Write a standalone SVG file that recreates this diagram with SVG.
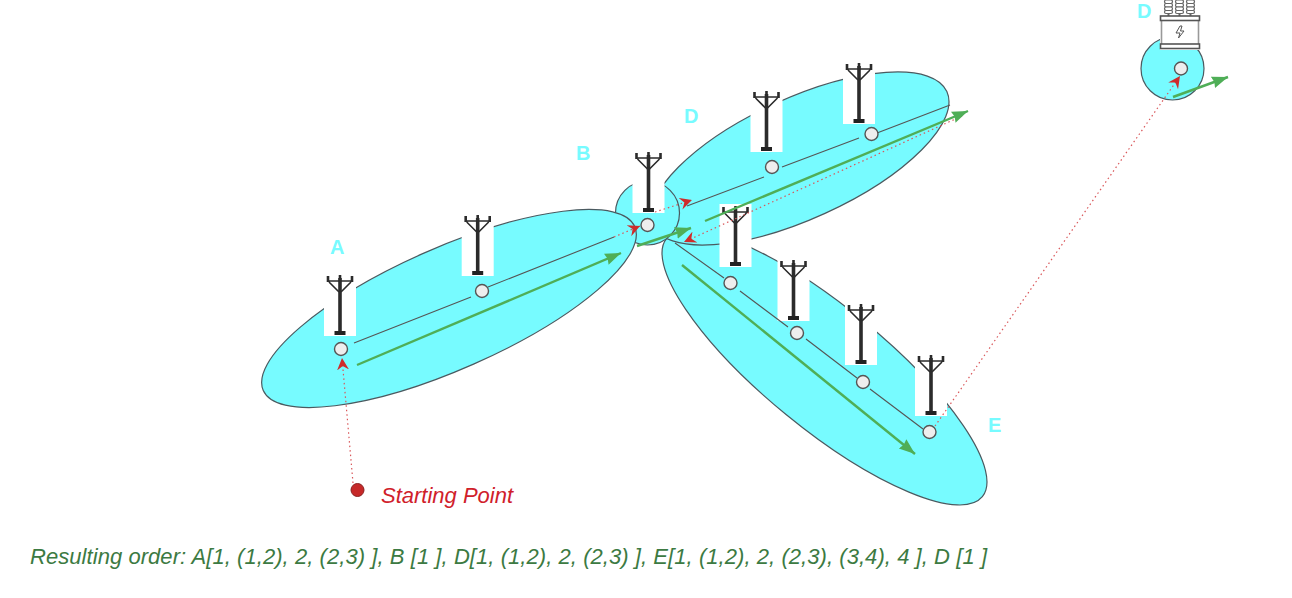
<svg xmlns="http://www.w3.org/2000/svg" width="1292" height="598" viewBox="0 0 1292 598">
<style>
.area{fill:#77fbff;stroke:#4a5a60;stroke-width:1.2}
.wire{stroke:#555;stroke-width:1.1;fill:none}
.pt{fill:#eeeeee;stroke:#555;stroke-width:1.4}
.green{stroke:#4fae57;stroke-width:2.4;fill:none;marker-end:url(#ga)}
.red{stroke:#d9575a;stroke-width:1.2;stroke-dasharray:1.5 3;fill:none;marker-end:url(#ra)}
.lab{font:bold 20px "Liberation Sans",Arial,sans-serif;fill:#77fbff}
.note{font:italic 22px "Liberation Sans",Arial,sans-serif}
</style>
<defs>
<marker id="ga" markerUnits="userSpaceOnUse" markerWidth="18" markerHeight="14" refX="16" refY="7" orient="auto"><path d="M0,1 L16,7 L0,13 L1.500,7z" fill="#4fae57"/></marker>
<marker id="ra" markerUnits="userSpaceOnUse" markerWidth="14" markerHeight="14" refX="12" refY="7" orient="auto"><path d="M0,1 L12,7 L0,13 L4,7z" fill="#cf2b2b"/></marker>
<g id="pole">
<rect x="-16" y="-62" width="32" height="63" fill="#fff"/>
<g fill="none" stroke="#2b2b2b">
<path d="M0,-57V-3" stroke-width="3.6"/>
<path d="M-12,-54H12M-11,-53L-1,-43M11,-53L1,-43" stroke-width="1.6"/>
<path d="M-12,-59V-53M0,-60V-53M12,-59V-53" stroke-width="2.6"/>
</g>
<rect x="-5.500" y="-4" width="11" height="4" fill="#222"/>
</g>
<g id="bushing" fill="#fff" stroke="#666" stroke-width="1.2">
<path d="M0,12V16" stroke-width="2"/>
<rect x="-4" y="0" width="8" height="3.500" rx="1.700"/>
<rect x="-4" y="3.500" width="8" height="3.500" rx="1.700"/>
<rect x="-4" y="7" width="8" height="3.500" rx="1.700"/>
<rect x="-4" y="10.500" width="8" height="3" rx="1.500"/>
</g>
</defs>
<g id="area-E"><ellipse class="area" cx="824.500" cy="367.500" rx="204" ry="60.700" transform="rotate(39.300 824.500 367.500)"/></g>
<g id="area-D"><ellipse class="area" cx="800" cy="158.500" rx="161.400" ry="60.300" transform="rotate(-24.500 800 158.500)"/></g>
<g id="area-B"><circle class="area" cx="647.500" cy="213" r="32"/></g>
<g id="area-A"><ellipse class="area" cx="449" cy="308.500" rx="203" ry="60.800" transform="rotate(-23.800 449 308.500)"/></g>
<g id="area-D2"><circle class="area" cx="1172.500" cy="68.500" r="31.500"/></g>
<g id="towers">
<use href="#pole" x="340" y="335"/>
<use href="#pole" x="477.700" y="275"/>
<use href="#pole" x="648.500" y="212"/>
<use href="#pole" x="766.500" y="151"/>
<use href="#pole" x="859" y="123"/>
<use href="#pole" x="735.500" y="266"/>
<use href="#pole" x="793.500" y="320"/>
<use href="#pole" x="861" y="364"/>
<use href="#pole" x="931" y="415"/>
</g>
<g id="transformer">
<rect x="1160" y="0" width="40" height="50" fill="#fff"/>
<use href="#bushing" x="1168.500" y="0"/>
<use href="#bushing" x="1179.500" y="0"/>
<use href="#bushing" x="1190.500" y="0"/>
<g fill="#fff" stroke="#555" stroke-width="1.6">
<rect x="1161.500" y="20" width="37" height="25" stroke="#999"/>
<rect x="1160.500" y="16" width="39" height="4.500"/>
<rect x="1160.500" y="44" width="39" height="4.500"/>
<path d="M1180,26L1176,33H1180L1178.500,38L1184,31H1180.500L1182,26Z" stroke-width="1"/>
</g>
</g>
<g id="connectors">
<path class="wire" d="M354,343L471,297M488,287L614,237M687,206L764,177M782,167L859,138M877,133L950,105M675,243L724,278M740,291L788,327M806,339L857,378M870,389L923,429"/>
<path class="red" d="M353,483L342,358"/>
<path class="red" d="M614,237L640,226"/>
<path class="red" d="M655,212L692,200"/>
<path class="red" d="M962,116L684,242"/>
<path class="red" d="M935,426L1180,76"/>
<path class="green" d="M357,365L621,253"/>
<path class="green" d="M637,246L691,228"/>
<path class="green" d="M705,221L968,111"/>
<path class="green" d="M682,265L915,454"/>
<path class="green" d="M1173,97L1228,77"/>
</g>
<g id="nodes">
<circle id="n1" class="pt" cx="341" cy="349" r="6.500"/>
<circle id="n2" class="pt" cx="482" cy="291" r="6.500"/>
<circle id="n3" class="pt" cx="647.500" cy="225" r="6.500"/>
<circle id="n4" class="pt" cx="772" cy="167" r="6.500"/>
<circle id="n5" class="pt" cx="871.500" cy="134" r="6.500"/>
<circle id="n6" class="pt" cx="730.500" cy="283" r="6.500"/>
<circle id="n7" class="pt" cx="797" cy="333" r="6.500"/>
<circle id="n8" class="pt" cx="863" cy="382" r="6.500"/>
<circle id="n9" class="pt" cx="929.500" cy="432" r="6.500"/>
<circle id="n10" class="pt" cx="1181" cy="68.500" r="6.500"/>
<circle id="start" cx="357.500" cy="490" r="6.500" fill="#c62828" stroke="#8a2020"/>
</g>
<g id="labels">
<text class="lab" x="330" y="254">A</text>
<text class="lab" x="576" y="160">B</text>
<text class="lab" x="684" y="123">D</text>
<text class="lab" x="988" y="432">E</text>
<text class="lab" x="1137" y="18">D</text>
<text class="note" x="381" y="503" fill="#d0202a">Starting Point</text>
<text class="note" x="30" y="564" fill="#3c7a42" textLength="957">Resulting order: A[1, (1,2), 2, (2,3) ], B [1 ], D[1, (1,2), 2, (2,3) ], E[1, (1,2), 2, (2,3), (3,4), 4 ], D [1 ]</text>
</g>
</svg>
